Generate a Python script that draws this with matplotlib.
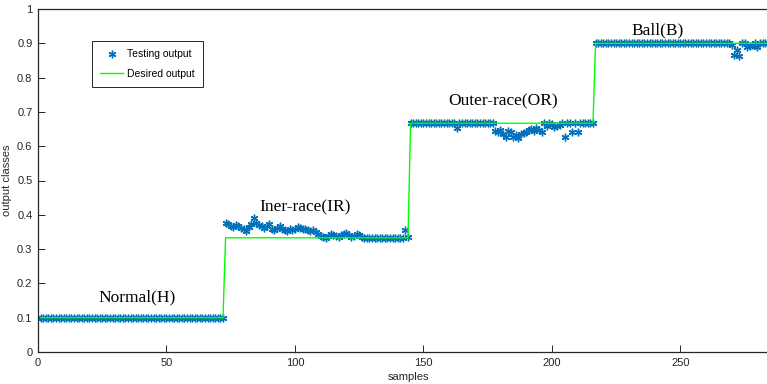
"""Testing output vs desired output for the four bearing fault classes."""

import numpy as np
import matplotlib.pyplot as plt

# class levels and per-class sample counts
class_levels = [0.1, 0.333, 0.667, 0.9]
n_per_class = 72
class_names = ["Normal(H)", "Iner-race(IR)", "Outer-race(OR)", "Ball(B)"]

# testing output (samples 1..288)
normal_out = [0.100] * 72

iner_out = [
    0.375, 0.372, 0.368, 0.365, 0.370, 0.366, 0.362, 0.358, 0.352, 0.365,
    0.372, 0.392, 0.375, 0.370, 0.366, 0.362, 0.368, 0.372, 0.360, 0.355,
    0.362, 0.367, 0.360, 0.355, 0.352, 0.358, 0.355, 0.360, 0.365, 0.362,
    0.358, 0.360, 0.355, 0.352, 0.355, 0.350, 0.345, 0.338, 0.335, 0.333,
    0.338, 0.345, 0.342, 0.338, 0.335, 0.340, 0.345, 0.348, 0.340, 0.335,
    0.338, 0.345, 0.340, 0.335, 0.333, 0.333, 0.333, 0.333, 0.333, 0.333,
    0.333, 0.333, 0.333, 0.333, 0.333, 0.333, 0.333, 0.333, 0.333, 0.333,
    0.355, 0.335,
]

outer_out = [
    0.667, 0.667, 0.667, 0.667, 0.667, 0.667, 0.667, 0.667, 0.667, 0.667,
    0.667, 0.667, 0.667, 0.667, 0.667, 0.667, 0.667, 0.667, 0.652, 0.667,
    0.667, 0.667, 0.667, 0.667, 0.667, 0.667, 0.667, 0.667, 0.667, 0.667,
    0.667, 0.667, 0.667, 0.645, 0.640, 0.648, 0.635, 0.628, 0.645, 0.640,
    0.628, 0.632, 0.625, 0.635, 0.638, 0.642, 0.648, 0.650, 0.645, 0.652,
    0.648, 0.640, 0.667, 0.660, 0.667, 0.665, 0.655, 0.660, 0.662, 0.667,
    0.628, 0.667, 0.667, 0.640, 0.667, 0.640, 0.667, 0.667, 0.667, 0.667,
    0.667, 0.667,
]

ball_out = [0.900] * 53 + [
    0.895, 0.866, 0.880, 0.863, 0.900, 0.900, 0.890, 0.892, 0.895, 0.900,
    0.890, 0.900, 0.900, 0.900, 0.900, 0.900, 0.900, 0.900, 0.900,
]

label_pos = [(38.5, 0.16), (104, 0.423), (181, 0.732), (241, 0.939)]


def main():
    plt.rcParams["font.family"] = ["Liberation Sans", "DejaVu Sans"]

    testing = np.array(normal_out + iner_out + outer_out + ball_out)
    desired = np.repeat(class_levels, n_per_class)
    samples = np.arange(1, len(desired) + 1)

    fig = plt.figure(figsize=(7.67, 3.84), dpi=100)
    ax = fig.add_axes([38 / 767, 32 / 384, 740 / 767, 343 / 384])

    # MATLAB-style asterisk marker
    ax.plot(samples, testing, ls="none", marker=(6, 2, 0), ms=5.5, mew=1.0,
            color="#0072BD", label="Testing output", zorder=2)
    ax.plot(samples, desired, color="#00FF00", lw=1.0,
            label="Desired output", zorder=3)

    for name, (x, y) in zip(class_names, label_pos):
        ax.text(x, y, name, ha="center", va="center", fontsize=12.5,
                family=["Liberation Serif", "DejaVu Serif"])

    ax.set_xlim(0, 288)
    ax.set_ylim(0, 1)
    ax.set_xticks([0, 50, 100, 150, 200, 250])
    ax.set_yticks(np.round(np.arange(0, 1.01, 0.1), 1))
    ax.set_yticklabels(["0", "0.1", "0.2", "0.3", "0.4", "0.5",
                        "0.6", "0.7", "0.8", "0.9", "1"])
    ax.tick_params(direction="in", length=5, width=0.7, labelsize=8,
                   colors="#262626", pad=4)
    for side in ["left", "bottom", "top"]:
        ax.spines[side].set_linewidth(0.9)
        ax.spines[side].set_color("#262626")
    ax.spines["right"].set_visible(False)

    ax.set_xlabel("samples", fontsize=8, color="#262626", labelpad=3)
    ax.set_ylabel("output classes", fontsize=8, color="#262626")
    ax.yaxis.set_label_coords(-26 / 740, 0.5)

    leg = ax.legend(loc="upper left", bbox_to_anchor=(92 / 767, 1 - 41 / 384),
                    bbox_transform=fig.transFigure, fontsize=7.5,
                    fancybox=False, edgecolor="#262626", framealpha=1,
                    borderaxespad=0, borderpad=0.8, labelspacing=0.9,
                    handlelength=2.2, handletextpad=0.4)
    leg.get_frame().set_linewidth(0.7)

    fig.savefig("out.png", dpi=100)


if __name__ == "__main__":
    main()
